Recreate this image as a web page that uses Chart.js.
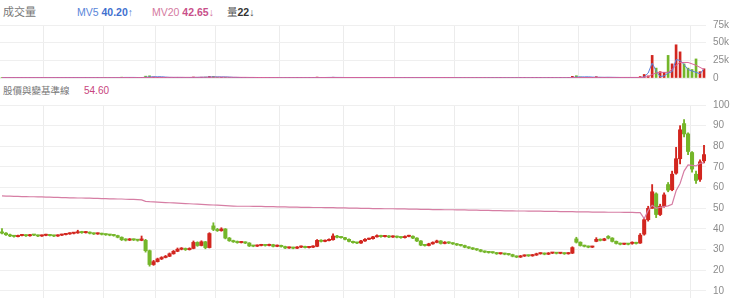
<!DOCTYPE html>
<html>
<head>
<meta charset="utf-8">
<script src="https://cdn.jsdelivr.net/npm/chart.js@4.4.1/dist/chart.umd.min.js"></script>
<style>
body { margin: 0; background: #fff; width: 740px; height: 298px; overflow: hidden; position: relative;
       font-family: "Liberation Sans", Arial, "Noto Sans CJK TC", sans-serif; }
canvas { position: absolute; left: 0; }
#volChart { top: 0; }
#priceChart { top: 100px; }
.t { position: absolute; font-size: 10.5px; line-height: 14px; white-space: nowrap; }
</style>
</head>
<body>
<div class="t" style="left:3px;top:5px;color:#777;font-size:11px">成交量</div>
<div class="t" style="left:77px;top:5px;color:#5a86d9">MV5 <b style="color:#3f70cf;font-weight:600">40.20</b>↑</div>
<div class="t" style="left:152px;top:5px;color:#d47aa0">MV20 <b style="color:#c9508a;font-weight:600">42.65</b>↓</div>
<div class="t" style="left:227px;top:5px;color:#555">量<b style="color:#333;font-weight:600">22</b>↓</div>
<div class="t" style="left:3px;top:84px;color:#777;font-size:9.5px">股價與變基準線</div>
<div class="t" style="left:84px;top:84px;color:#c8457d;font-size:10px">54.60</div>

<canvas id="volChart" width="740" height="84"></canvas>
<canvas id="priceChart" width="740" height="198"></canvas>

<script>
// 日K資料 (讀圖估計)
const opens = [
  38.6,38.0,37.2,36.6,36.3,36.8,37.0,36.7,37.1,37.0,
  36.6,36.9,37.2,36.8,36.6,37.0,37.3,37.6,37.9,38.1,
  38.6,38.2,38.4,37.9,37.6,37.8,37.4,37.2,37.0,36.8,
  36.0,34.8,34.6,35.0,34.7,34.5,34.5,29.5,22.8,24.2,
  25.5,26.2,26.8,28.0,29.2,30.2,30.5,30.0,30.6,33.5,
  32.0,33.8,31.0,41.5,39.8,39.2,40.0,35.6,34.3,33.8,
  33.4,33.6,33.2,31.8,31.7,32.0,32.3,32.0,32.4,31.6,
  32.0,31.5,30.8,31.0,30.7,31.2,31.5,31.0,31.2,31.6,
  34.5,34.0,34.4,34.8,36.6,36.0,35.8,35.0,34.0,33.4,
  33.2,34.2,35.0,35.3,36.2,36.8,36.3,36.6,36.1,36.4,
  36.0,35.8,36.4,36.5,35.6,34.2,32.2,32.0,32.8,33.5,
  34.2,33.0,33.6,33.2,32.8,32.3,32.0,31.2,30.8,30.3,
  29.9,29.2,28.8,28.6,28.5,28.0,28.1,27.8,27.6,26.8,
  26.4,26.9,27.2,27.0,27.4,28.0,28.2,27.8,28.3,28.4,
  28.2,28.3,28.0,28.3,35.2,33.6,32.0,31.6,31.2,34.0,
  35.0,34.5,36.4,35.6,34.0,33.0,32.6,32.8,33.0,33.4,
  33.2,37.5,44.5,50.0,57.0,47.0,51.0,61.5,59.0,67.0,
  74.0,91.0,86.0,77.0,66.5,64.0,73.0
];
const highs = [
  40.2,38.3,37.5,36.9,37.1,37.3,37.2,37.4,37.3,37.1,
  37.1,37.5,37.3,37.0,37.2,37.5,37.9,38.2,38.4,39.4,
  38.9,38.8,38.6,38.1,38.1,38.0,37.6,37.4,37.3,37.0,
  36.2,35.3,35.4,35.2,35.0,36.6,35.0,29.8,24.8,25.9,
  26.6,27.2,28.4,29.6,30.8,31.0,30.8,30.9,34.2,33.8,
  34.3,34.0,38.2,43.0,40.3,40.6,40.2,35.9,34.6,34.2,
  34.0,33.8,33.4,32.1,32.3,32.6,32.5,32.7,32.6,32.3,
  32.2,31.7,31.3,31.2,31.5,31.8,31.7,31.5,31.9,34.9,
  34.8,34.7,35.2,37.6,36.9,36.3,36.0,35.2,34.2,33.6,
  34.5,35.3,35.6,36.5,37.2,37.0,36.9,36.8,36.7,36.6,
  36.2,36.7,37.0,36.7,35.8,34.4,32.4,33.1,33.8,34.6,
  34.4,33.9,33.8,33.4,33.0,32.5,32.2,31.4,31.0,30.5,
  30.1,29.4,29.1,28.9,28.7,28.4,28.3,28.0,27.8,27.0,
  27.2,27.5,27.4,27.7,28.3,28.5,28.4,28.6,28.7,28.6,
  28.6,28.5,28.6,31.4,36.0,33.8,32.2,31.8,31.7,35.8,
  35.2,35.5,36.8,35.8,34.2,33.2,33.1,33.0,33.8,33.6,
  37.8,45.5,51.0,61.5,57.5,52.0,57.5,62.5,68.0,79.5,
  90.0,93.0,86.5,77.5,68.0,73.5,80.5
];
const lows = [
  37.6,36.9,36.3,36.0,36.1,36.6,36.4,36.5,36.8,36.3,
  36.4,36.7,36.6,36.3,36.4,36.8,37.1,37.4,37.6,37.9,
  37.9,38.0,37.6,37.3,37.4,37.1,36.9,36.7,36.5,35.7,
  34.4,34.2,34.4,34.4,34.1,34.3,28.8,22.0,22.4,24.0,
  25.2,26.0,26.6,27.8,29.0,29.9,29.6,29.8,30.4,31.6,
  31.8,30.4,30.8,39.2,38.8,38.9,35.2,34.0,33.5,33.1,
  33.2,32.9,31.5,31.4,31.5,31.8,31.7,31.8,31.3,31.4,
  31.2,30.5,30.6,30.4,30.5,31.0,30.8,30.8,31.0,31.4,
  33.7,33.8,34.2,34.6,35.7,35.5,34.7,33.7,33.1,32.9,
  33.0,34.0,34.8,35.1,36.0,36.0,36.1,35.8,35.9,35.7,
  35.5,35.6,36.2,35.3,33.9,31.9,31.7,31.8,32.6,33.3,
  32.7,32.8,32.9,32.5,32.0,31.7,30.9,30.5,30.0,29.6,
  28.9,28.5,28.3,28.2,27.7,27.8,27.5,27.3,26.5,26.1,
  26.2,26.7,26.7,26.8,27.2,27.8,27.5,27.6,28.1,27.9,
  28.0,27.7,27.8,28.1,33.2,31.7,31.3,30.9,31.0,33.8,
  34.2,34.3,35.2,33.7,32.7,32.3,32.4,32.3,32.6,32.7,
  33.0,37.0,43.8,50.0,45.5,46.5,50.5,58.0,58.5,66.5,
  71.5,84.5,76.0,67.5,62.0,63.0,72.0
];
const closes = [
  38.0,37.2,36.6,36.4,36.8,37.0,36.7,37.1,37.0,36.6,
  36.9,37.2,36.8,36.6,37.0,37.3,37.6,37.9,38.1,38.6,
  38.2,38.4,37.9,37.6,37.8,37.4,37.2,37.0,36.8,36.0,
  34.8,34.6,35.0,34.7,34.5,35.2,29.5,22.8,24.2,25.5,
  26.2,26.8,28.0,29.2,30.2,30.5,30.0,30.6,33.5,32.0,
  33.8,31.0,37.8,39.8,39.2,40.0,35.6,34.3,33.8,33.4,
  33.6,33.2,31.8,31.7,32.0,32.3,32.0,32.4,31.6,32.0,
  31.5,30.8,31.0,30.7,31.2,31.5,31.0,31.2,31.6,34.5,
  34.0,34.4,34.8,36.6,36.0,35.8,35.0,34.0,33.4,33.2,
  34.2,35.0,35.3,36.2,36.8,36.3,36.6,36.1,36.4,36.0,
  35.8,36.4,36.5,35.6,34.2,32.2,32.0,32.8,33.5,34.2,
  33.0,33.6,33.2,32.8,32.3,32.0,31.2,30.8,30.3,29.9,
  29.2,28.8,28.6,28.5,28.0,28.1,27.8,27.6,26.8,26.4,
  26.9,27.2,27.0,27.4,28.0,28.2,27.8,28.3,28.4,28.2,
  28.3,28.0,28.3,31.0,33.6,32.0,31.6,31.2,31.4,35.0,
  34.5,35.2,35.6,34.0,33.0,32.6,32.8,32.6,33.4,33.0,
  37.0,44.5,50.0,58.0,47.0,51.0,56.5,58.8,66.5,74.0,
  88.0,86.0,77.5,69.0,63.5,72.5,76.0
];
// 股價與變基準線
const baseLine = [
  56.0,55.9,55.9,55.8,55.8,55.7,55.7,55.6,55.6,55.5,
  55.5,55.4,55.4,55.3,55.3,55.2,55.2,55.1,55.1,55.0,
  55.0,54.9,54.9,54.8,54.8,54.7,54.7,54.6,54.6,54.5,
  54.5,54.4,54.3,54.3,54.2,54.1,53.4,53.2,53.1,53.0,
  52.9,52.8,52.7,52.6,52.5,52.4,52.3,52.2,52.1,52.0,
  51.9,51.8,51.7,51.6,51.5,51.4,51.3,51.2,51.1,51.0,
  51.0,51.0,51.0,50.9,50.9,50.9,50.8,50.8,50.8,50.7,
  50.7,50.7,50.6,50.6,50.6,50.5,50.5,50.5,50.4,50.4,
  50.4,50.3,50.3,50.3,50.2,50.2,50.2,50.1,50.1,50.1,
  50.0,50.0,50.0,49.9,49.9,49.9,49.8,49.8,49.8,49.7,
  49.7,49.7,49.6,49.6,49.6,49.5,49.5,49.5,49.4,49.4,
  49.4,49.3,49.3,49.3,49.2,49.2,49.2,49.1,49.1,49.1,
  49.0,49.0,49.0,48.9,48.9,48.9,48.8,48.8,48.8,48.7,
  48.7,48.7,48.6,48.6,48.6,48.6,48.5,48.5,48.5,48.5,
  48.4,48.4,48.4,48.4,48.3,48.3,48.3,48.3,48.2,48.2,
  48.2,48.2,48.1,48.1,48.1,48.1,48.0,48.0,48.0,47.9,
  47.9,45.0,49.0,51.5,50.0,50.5,50.8,51.2,52.0,58.5,
  62.0,68.0,71.0,70.8,70.5,71.8,72.0
];
// 成交量 (千張)
const volumes = [
  0.6,0.4,0.5,0.3,0.7,0.5,0.4,0.6,0.3,0.5,
  0.4,0.6,0.5,0.3,0.4,0.7,0.8,0.6,0.5,0.9,
  0.6,0.5,0.4,0.5,0.3,0.4,0.5,0.4,0.6,0.8,
  1.2,0.7,0.5,0.6,0.4,0.9,2.6,3.1,1.5,0.9,
  0.7,0.6,0.8,0.9,1.0,0.6,0.5,0.7,1.4,0.9,
  1.1,1.3,2.2,2.4,1.2,0.9,1.1,0.8,0.6,0.5,
  0.4,0.5,0.6,0.4,0.3,0.5,0.4,0.4,0.5,0.3,
  0.4,0.5,0.3,0.4,0.5,0.4,0.3,0.4,0.5,1.3,
  0.8,0.6,0.7,1.1,0.8,0.6,0.5,0.6,0.5,0.4,
  0.6,0.7,0.5,0.6,0.7,0.5,0.4,0.5,0.4,0.5,
  0.4,0.5,0.6,0.5,0.7,0.9,0.6,0.5,0.6,0.7,
  0.6,0.5,0.4,0.4,0.5,0.4,0.5,0.4,0.3,0.4,
  0.5,0.4,0.3,0.4,0.5,0.3,0.4,0.3,0.5,0.4,
  0.3,0.4,0.3,0.4,0.5,0.4,0.3,0.4,0.3,0.4,
  0.3,0.4,0.5,2.4,3.2,1.4,0.8,0.6,0.5,1.9,
  1.0,0.8,0.9,0.7,0.6,0.5,0.6,0.5,0.7,0.6,
  2.0,5,3,32,14,9,8,32,20,47,
  37,20,14,12,27,9,13
];
const mv5 = [
  0.5,0.5,0.5,0.5,0.5,0.5,0.5,0.5,0.5,0.5,
  0.5,0.5,0.5,0.5,0.5,0.5,0.6,0.6,0.6,0.7,
  0.7,0.7,0.6,0.5,0.5,0.4,0.4,0.4,0.5,0.5,
  0.7,0.8,0.8,0.8,0.7,0.6,1.1,1.5,1.7,1.8,
  1.8,1.3,0.9,0.8,0.8,0.8,0.7,0.7,0.8,0.9,
  1.0,1.1,1.4,1.6,1.6,1.6,1.5,1.3,0.9,0.8,
  0.6,0.5,0.5,0.5,0.4,0.4,0.4,0.5,0.4,0.4,
  0.4,0.4,0.4,0.4,0.4,0.4,0.4,0.4,0.4,0.6,
  0.7,0.7,0.8,0.9,0.8,0.8,0.7,0.6,0.5,0.5,
  0.5,0.6,0.6,0.6,0.6,0.6,0.6,0.5,0.5,0.5,
  0.5,0.5,0.5,0.5,0.5,0.6,0.7,0.7,0.7,0.7,
  0.6,0.6,0.6,0.5,0.5,0.5,0.4,0.4,0.4,0.4,
  0.4,0.4,0.4,0.4,0.4,0.4,0.4,0.4,0.4,0.4,
  0.4,0.4,0.4,0.4,0.4,0.4,0.4,0.4,0.4,0.4,
  0.4,0.4,0.4,0.8,1.4,1.5,1.6,1.7,1.3,1.0,
  1.0,0.9,1.0,0.9,0.8,0.7,0.7,0.6,0.6,0.6,
  0.6,1.5,7,21,10,2,3,7,9,26,
  25,19,12,10,8,6,13
];
const mv20 = [
  0.5,0.5,0.5,0.5,0.5,0.5,0.5,0.5,0.5,0.5,
  0.5,0.5,0.5,0.5,0.5,0.5,0.5,0.5,0.5,0.5,
  0.5,0.5,0.5,0.5,0.5,0.5,0.5,0.5,0.5,0.5,
  0.6,0.6,0.6,0.6,0.6,0.6,0.7,0.8,0.8,0.8,
  0.8,0.8,0.9,0.9,0.9,0.9,0.9,0.9,0.9,0.9,
  1.0,1.0,1.0,1.1,1.1,1.1,1.1,1.0,1.0,1.0,
  0.9,0.9,0.8,0.8,0.7,0.7,0.7,0.6,0.6,0.6,
  0.5,0.5,0.5,0.5,0.5,0.5,0.5,0.5,0.5,0.5,
  0.6,0.6,0.6,0.6,0.6,0.6,0.6,0.6,0.6,0.6,
  0.6,0.6,0.6,0.6,0.6,0.6,0.6,0.6,0.6,0.6,
  0.5,0.5,0.5,0.5,0.5,0.5,0.6,0.6,0.6,0.6,
  0.6,0.6,0.6,0.6,0.5,0.5,0.5,0.5,0.5,0.5,
  0.5,0.5,0.4,0.4,0.4,0.4,0.4,0.4,0.4,0.4,
  0.4,0.4,0.4,0.4,0.4,0.4,0.4,0.4,0.4,0.4,
  0.4,0.4,0.4,0.5,0.6,0.6,0.7,0.7,0.7,0.8,
  0.8,0.8,0.8,0.8,0.8,0.8,0.8,0.8,0.8,0.8,
  0.7,1,2,5,7,8,8,8,12,18,
  22,22,22,20,18,15,12
];
// 垂直格線位置(月份起點)與刻度
const monthStarts = [11, 26, 39, 54, 70, 86, 99, 114, 130, 145, 158, 173];
const priceTicks = [10, 20, 30, 40, 50, 60, 70, 80, 90, 100];
const volTicks = [0, 25, 50, 75];

const labels = closes.map((_, i) => i);
const upColor = '#d2261f';
const downColor = '#74b62a';
const candleColor = ctx => closes[ctx.dataIndex] >= opens[ctx.dataIndex] ? upColor : downColor;

function xAxis() {
    return {
        offset: true,
        grid: {
            offset: true,
            drawTicks: false,
            color: ctx => monthStarts.includes(ctx.index) ? '#ececec' : 'rgba(0,0,0,0)'
        },
        ticks: { display: false, autoSkip: false },
        border: { display: false },
        afterFit: s => { s.height = 0; s.paddingLeft = 0; s.paddingRight = 0; }
    };
}

function yAxis(min, max, tickList, fmt) {
    return {
        position: 'right',
        min, max,
        afterBuildTicks: s => { s.ticks = tickList.map(v => ({ value: v })); },
        ticks: { color: '#8c8c8c', font: { size: 10 }, padding: 7, callback: fmt },
        grid: { color: '#efefef', drawTicks: false },
        border: { display: false },
        afterFit: s => { s.width = 34; s.paddingTop = 0; s.paddingBottom = 0; }
    };
}

Chart.defaults.font.family = '"Liberation Sans", Arial, sans-serif';

// 成交量
new Chart(document.getElementById('volChart'), {
    type: 'bar',
    data: {
        labels,
        datasets: [
            { type: 'line', data: mv20, borderColor: '#d9639b', borderWidth: 1, pointRadius: 0, order: 0 },
            { type: 'line', data: mv5, borderColor: '#5a80dc', borderWidth: 1, pointRadius: 0, order: 1 },
            { data: volumes, backgroundColor: candleColor, barThickness: 2, grouped: false, order: 2 }
        ]
    },
    options: {
        responsive: false,
        animation: false,
        devicePixelRatio: 1,
        layout: { padding: { top: 25, bottom: 6, left: 0, right: 0 } },
        plugins: { legend: { display: false }, tooltip: { enabled: false } },
        scales: {
            x: xAxis(),
            y: yAxis(0, 75, volTicks, v => v === 0 ? '0' : v + 'k')
        }
    }
});

// 股價K線
new Chart(document.getElementById('priceChart'), {
    type: 'bar',
    data: {
        labels,
        datasets: [
            { type: 'line', data: baseLine, borderColor: '#d67ea4', borderWidth: 1.2, pointRadius: 0, order: 0 },
            { data: opens.map((o, i) => [o, closes[i]]), backgroundColor: candleColor,
              barThickness: 3.4, minBarLength: 1.2, grouped: false, order: 1 },
            { data: lows.map((l, i) => [l, highs[i]]), backgroundColor: candleColor,
              barThickness: 1.2, grouped: false, order: 2 }
        ]
    },
    options: {
        responsive: false,
        animation: false,
        devicePixelRatio: 1,
        layout: { padding: { top: 5, bottom: 0, left: 0, right: 0 } },
        plugins: { legend: { display: false }, tooltip: { enabled: false } },
        scales: {
            x: xAxis(),
            y: yAxis(6.6, 100, priceTicks)
        }
    }
});
</script>
</body>
</html>
